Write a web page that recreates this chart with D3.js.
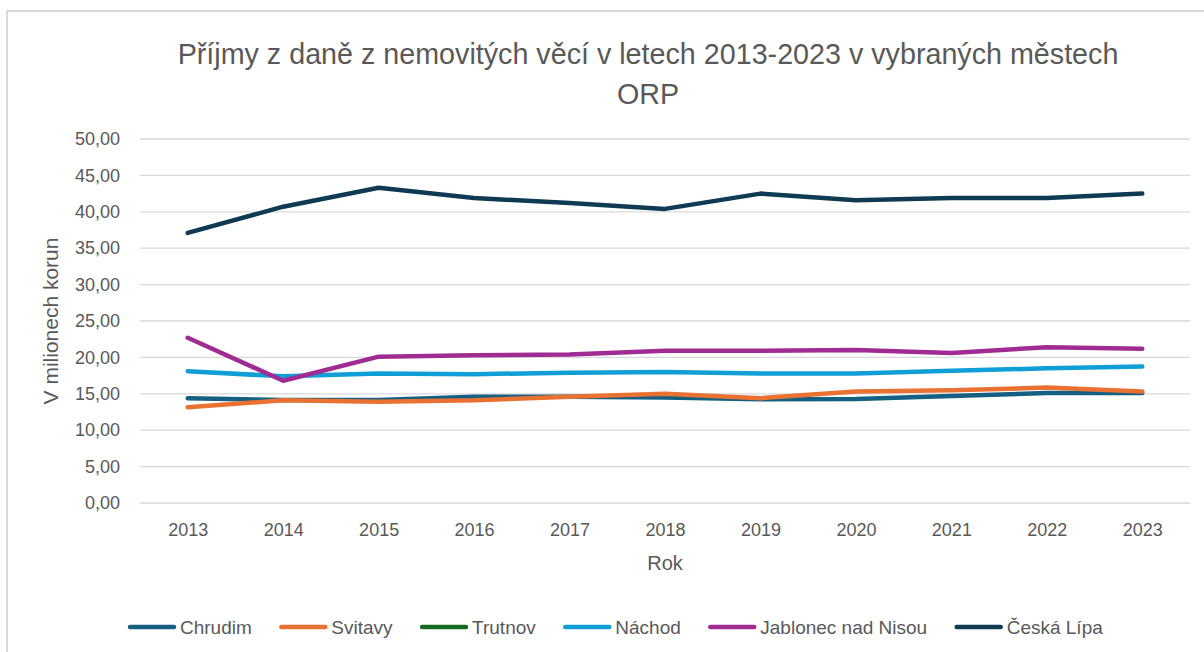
<!DOCTYPE html>
<html>
<head>
<meta charset="utf-8">
<script src="https://cdn.jsdelivr.net/npm/d3@7"></script>
<style>
  body { margin: 0; background: #fff; }
  svg { display: block; font-family: "Liberation Sans", Arial, sans-serif; }
</style>
</head>
<body>
<div id="chart"></div>
<script>
// data
const years = ["2013", "2014", "2015", "2016", "2017", "2018", "2019", "2020", "2021", "2022", "2023"];
const chrudim = [14.4, 14.15, 14.15, 14.6, 14.6, 14.5, 14.25, 14.3, 14.7, 15.1, 15.1];
const svitavy = [13.15, 14.1, 13.9, 14.1, 14.6, 15.0, 14.4, 15.3, 15.5, 15.85, 15.3];
const trutnov = [];
const nachod = [18.1, 17.4, 17.8, 17.7, 17.9, 18.0, 17.8, 17.8, 18.15, 18.5, 18.75];
const jablonec = [22.7, 16.8, 20.1, 20.3, 20.4, 20.9, 20.9, 21.0, 20.6, 21.4, 21.2];
const ceskaLipa = [37.1, 40.7, 43.3, 41.9, 41.2, 40.4, 42.5, 41.6, 41.9, 41.9, 42.5];
const yTicks = [0, 5, 10, 15, 20, 25, 30, 35, 40, 45, 50];

const series = [
  { name: "Chrudim", values: chrudim, color: "#156082" },
  { name: "Svitavy", values: svitavy, color: "#e97132" },
  { name: "Trutnov", values: trutnov, color: "#196b24" },
  { name: "Náchod", values: nachod, color: "#0f9ed5" },
  { name: "Jablonec nad Nisou", values: jablonec, color: "#a02b93" },
  { name: "Česká Lípa", values: ceskaLipa, color: "#0e3a52" }
];

const width = 1204, height = 652;
const plotLeft = 140, plotRight = 1190, plotTop = 139, plotBottom = 503;

const svg = d3.select("#chart").append("svg")
  .attr("width", width)
  .attr("height", height);

// chart frame
svg.append("rect")
  .attr("x", 7).attr("y", 11)
  .attr("width", 1220).attr("height", 660)
  .attr("fill", "none")
  .attr("stroke", "#d9d9d9")
  .attr("stroke-width", 2);

const x = d3.scalePoint().domain(years).range([plotLeft, plotRight]).padding(0.5);
const y = d3.scaleLinear().domain([0, 50]).range([plotBottom, plotTop]);

// gridlines
svg.append("g")
  .selectAll("line")
  .data(yTicks)
  .enter()
  .append("line")
  .attr("x1", plotLeft).attr("x2", plotRight)
  .attr("y1", d => y(d)).attr("y2", d => y(d))
  .attr("stroke", "#d9d9d9")
  .attr("stroke-width", 1.3);

// y axis
const fmt = d => d3.format(".2f")(d).replace(".", ",");
const yAxis = svg.append("g")
  .attr("transform", "translate(" + (plotLeft - 20) + ",0)")
  .call(d3.axisLeft(y).tickValues(yTicks).tickFormat(fmt).tickSize(0).tickPadding(0));
yAxis.select(".domain").remove();
yAxis.selectAll("text")
  .attr("font-size", 18)
  .attr("fill", "#595959")
  .attr("font-family", "Liberation Sans, Arial, sans-serif");

// x axis
const xAxis = svg.append("g")
  .attr("transform", "translate(0," + plotBottom + ")")
  .call(d3.axisBottom(x).tickSize(0).tickPadding(20));
xAxis.select(".domain").remove();
xAxis.selectAll("text")
  .attr("font-size", 18)
  .attr("fill", "#595959")
  .attr("font-family", "Liberation Sans, Arial, sans-serif");

// lines
const line = d3.line()
  .x((d, i) => x(years[i]))
  .y(d => y(d));

svg.append("g")
  .selectAll("path")
  .data(series.filter(s => s.values.length))
  .enter()
  .append("path")
  .attr("d", d => line(d.values))
  .attr("fill", "none")
  .attr("stroke", d => d.color)
  .attr("stroke-width", 4.5)
  .attr("stroke-linecap", "round")
  .attr("stroke-linejoin", "round");

// titles
svg.append("text")
  .attr("x", 648).attr("y", 64)
  .attr("text-anchor", "middle")
  .attr("font-size", 28.7)
  .attr("fill", "#595959")
  .text("Příjmy z daně z nemovitých věcí v letech 2013-2023 v vybraných městech");
svg.append("text")
  .attr("x", 648).attr("y", 104)
  .attr("text-anchor", "middle")
  .attr("font-size", 28.7)
  .attr("fill", "#595959")
  .text("ORP");

svg.append("text")
  .attr("x", (plotLeft + plotRight) / 2).attr("y", 570)
  .attr("text-anchor", "middle")
  .attr("font-size", 20)
  .attr("fill", "#595959")
  .text("Rok");

svg.append("text")
  .attr("transform", "translate(58," + ((plotTop + plotBottom) / 2) + ") rotate(-90)")
  .attr("text-anchor", "middle")
  .attr("font-size", 21)
  .attr("fill", "#595959")
  .text("V milionech korun");

// legend
const legend = svg.append("g").attr("transform", "translate(128,627)");
let lx = 0;
series.forEach(s => {
  const g = legend.append("g").attr("transform", "translate(" + lx + ",0)");
  g.append("line")
    .attr("x1", 2).attr("x2", 46)
    .attr("y1", 0).attr("y2", 0)
    .attr("stroke", s.color)
    .attr("stroke-width", 4.5)
    .attr("stroke-linecap", "round");
  const t = g.append("text")
    .attr("x", 52).attr("y", 6.5)
    .attr("font-size", 19)
    .attr("fill", "#595959")
    .text(s.name);
  lx += 52 + t.node().getComputedTextLength() + 27.5;
});
</script>
</body>
</html>
